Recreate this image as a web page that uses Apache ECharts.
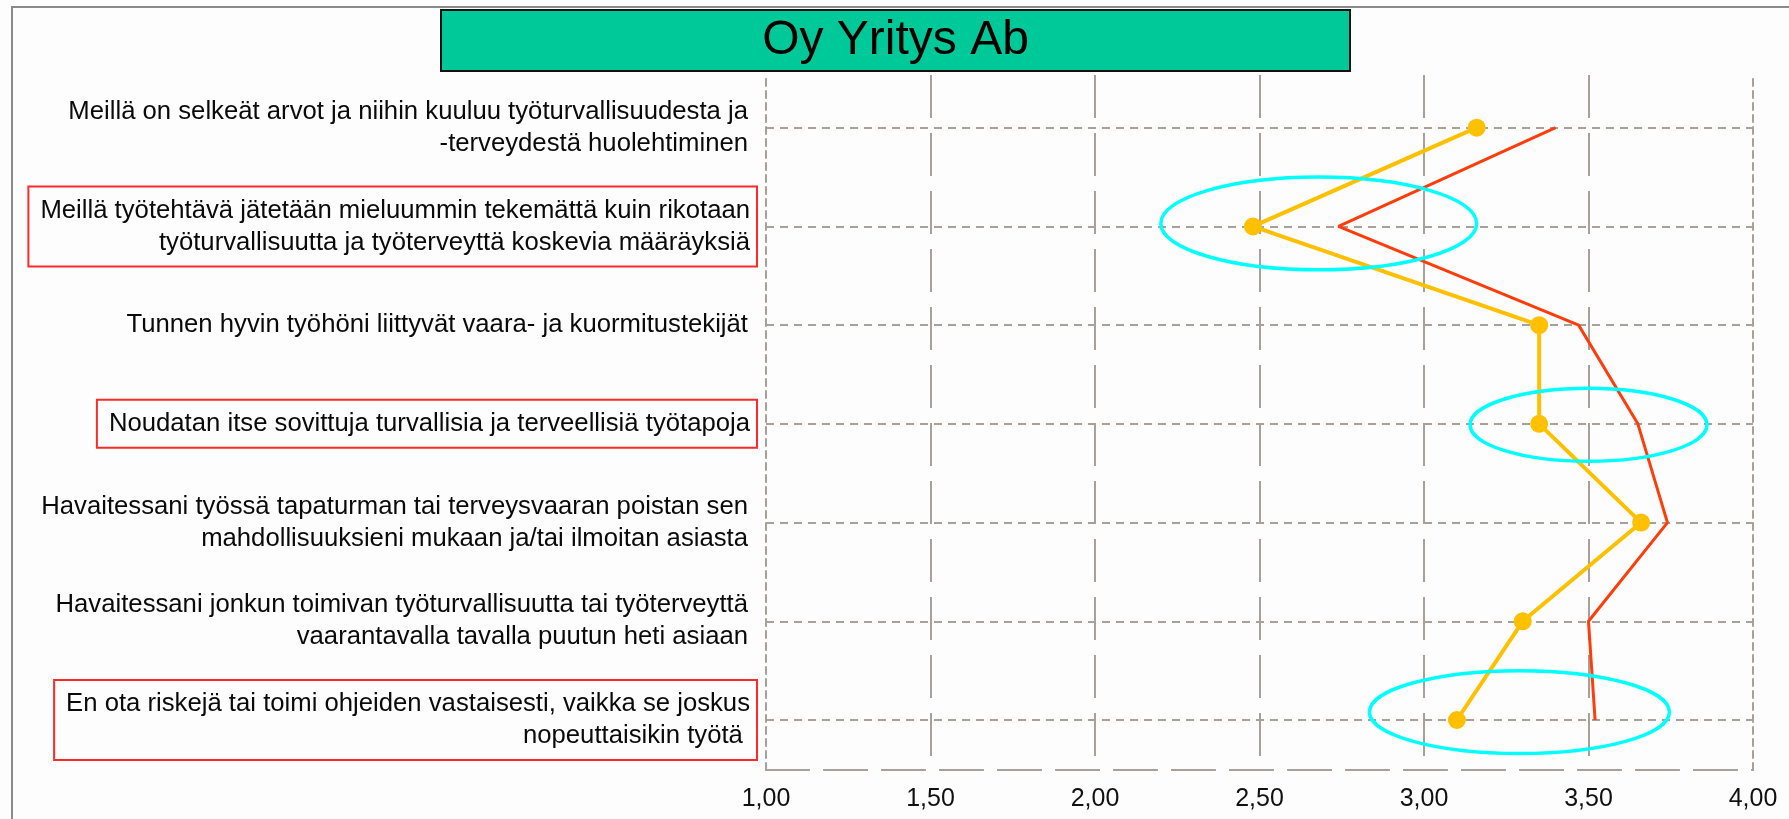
<!DOCTYPE html>
<html><head><meta charset="utf-8">
<script src="https://cdn.jsdelivr.net/npm/echarts@6/dist/echarts.min.js"></script>
<style>html,body{margin:0;padding:0;background:#fdfdfd}#c{width:1789px;height:819px}</style>
</head><body><div id="c"></div>
<script>
// ---- data ----
const chartTitle = 'Oy Yritys Ab';
const categories = [
  'Meillä on selkeät arvot ja niihin kuuluu työturvallisuudesta ja\n-terveydestä huolehtiminen',
  'Meillä työtehtävä jätetään mieluummin tekemättä kuin rikotaan\ntyöturvallisuutta ja työterveyttä koskevia määräyksiä',
  'Tunnen hyvin työhöni liittyvät vaara- ja kuormitustekijät',
  'Noudatan itse sovittuja turvallisia ja terveellisiä työtapoja',
  'Havaitessani työssä tapaturman tai terveysvaaran poistan sen\nmahdollisuuksieni mukaan ja/tai ilmoitan asiasta',
  'Havaitessani jonkun toimivan työturvallisuutta tai työterveyttä\nvaarantavalla tavalla puutun heti asiaan',
  'En ota riskejä tai toimi ohjeiden vastaisesti, vaikka se joskus\nnopeuttaisikin työtä '
];
const companyScores   = [3.16, 2.48, 3.35, 3.35, 3.66, 3.30, 3.10];
const referenceScores = [3.40, 2.74, 3.47, 3.65, 3.74, 3.50, 3.52];
const xTickValues = [1.00, 1.50, 2.00, 2.50, 3.00, 3.50, 4.00];
const highlightedCategories = [1, 3, 6];
// annotation ellipses in data units (value axis, category index)
const ellipseCenters = [[2.68, 0.97], [3.50, 3.01], [3.29, 5.92]];
const ellipseRadii   = [[0.48, 0.47], [0.36, 0.37], [0.456, 0.42]];

// ---- styles ----
const GRAY = '#a7a199';
const FONT = "'Liberation Sans', Arial, sans-serif";
const L = 766, R = 1789 - 1753, T = 75, B = 819 - 770;
const catTop = 127.7, catBottom = 720;

const yAxisData = categories.map((c, i) => highlightedCategories.includes(i)
  ? { value: c, textStyle: { borderColor: '#ff2a2a', borderWidth: 2, padding: [8, 7, 8, 12] } }
  : { value: c });

const chart = echarts.init(document.getElementById('c'), null, { renderer: 'canvas' });
const option = {
  animation: false,
  backgroundColor: '#fdfdfd',
  grid: [
    { left: L, right: R, top: T, bottom: B },
    { left: L, right: R, top: catTop, bottom: 819 - catBottom }
  ],
  xAxis: [
    { gridIndex: 0, type: 'value', position: 'bottom', min: xTickValues[0], max: xTickValues[xTickValues.length - 1],
      interval: xTickValues[1] - xTickValues[0],
      axisLine: { show: true, lineStyle: { color: GRAY, width: 2, type: [43, 15] } },
      axisTick: { show: false },
      axisLabel: { fontFamily: FONT, fontSize: 25, color: '#111', margin: 17,
        formatter: v => v.toFixed(2).replace('.', ',') },
      splitLine: { show: true, showMinLine: false, showMaxLine: false,
        lineStyle: { color: GRAY, width: 2, type: [43, 15] } } },
    { gridIndex: 0, type: 'value', position: 'top', min: xTickValues[0], max: xTickValues[xTickValues.length - 1],
      axisLine: { show: true, lineStyle: { color: GRAY, width: 2, type: [43, 15] } },
      axisTick: { show: false }, axisLabel: { show: false }, splitLine: { show: false } },
    { gridIndex: 1, type: 'value', min: xTickValues[0], max: xTickValues[xTickValues.length - 1], show: false }
  ],
  yAxis: [
    { gridIndex: 0, type: 'value', position: 'left', min: 0, max: 1,
      axisLine: { show: true, lineStyle: { color: GRAY, width: 2, type: [7, 5] } },
      axisTick: { show: false }, axisLabel: { show: false }, splitLine: { show: false } },
    { gridIndex: 0, type: 'value', position: 'right', min: 0, max: 1,
      axisLine: { show: true, lineStyle: { color: GRAY, width: 2, type: [7, 5] } },
      axisTick: { show: false }, axisLabel: { show: false }, splitLine: { show: false } },
    { gridIndex: 1, type: 'category', inverse: true, boundaryGap: false, data: yAxisData,
      axisLine: { show: false }, axisTick: { show: false },
      axisLabel: { interval: 0, fontFamily: FONT, fontSize: 25.7, lineHeight: 32, color: '#0a0a0a',
        margin: 9, align: 'right', padding: [0, 9, 0, 0] },
      splitLine: { show: true, lineStyle: { color: GRAY, width: 2, type: [8, 6] } } }
  ],
  series: [
    { name: 'Vertailu', type: 'line', xAxisIndex: 2, yAxisIndex: 2, data: referenceScores,
      symbol: 'none', lineStyle: { color: '#ff3d0a', width: 3 }, z: 3 },
    { name: chartTitle, type: 'line', xAxisIndex: 2, yAxisIndex: 2, data: companyScores,
      symbol: 'circle', symbolSize: 18, itemStyle: { color: '#ffc000' },
      lineStyle: { color: '#ffc000', width: 4 }, z: 4 }
  ],
  graphic: [
    { id: 'frame', type: 'rect', shape: { x: 12, y: 7, width: 1820, height: 900 },
      style: { fill: 'none', stroke: '#8a8a8a', lineWidth: 2 }, z: 0 },
    { id: 'titleBox', type: 'rect', shape: { x: 441, y: 10, width: 909, height: 61 },
      style: { fill: '#00c999', stroke: '#111', lineWidth: 2 }, z: 10 },
    { id: 'titleText', type: 'text', x: 895.5, y: 41,
      style: { text: chartTitle, font: "48px 'Liberation Sans', Arial, sans-serif", fill: '#000',
        align: 'center', verticalAlign: 'middle' }, z: 11 }
  ]
};
chart.setOption(option);

// cyan annotation ellipses, positioned through the data grid's scales
const p0 = chart.convertToPixel({ gridIndex: 1 }, [1, 0]);
const p1 = chart.convertToPixel({ gridIndex: 1 }, [2, 1]);
const unitX = p1[0] - p0[0], unitY = p1[1] - p0[1];
const ellipses = ellipseCenters.map((c, i) => {
  const base = chart.convertToPixel({ gridIndex: 1 }, [c[0], Math.round(c[1])]);
  return {
    id: 'ell' + i, type: 'ellipse',
    shape: { cx: base[0], cy: base[1] + (c[1] - Math.round(c[1])) * unitY,
      rx: ellipseRadii[i][0] * unitX, ry: ellipseRadii[i][1] * unitY },
    style: { fill: 'none', stroke: '#00ffff', lineWidth: 3.5 }, z: 20
  };
});
chart.setOption({ graphic: ellipses });
</script>
</body></html>
